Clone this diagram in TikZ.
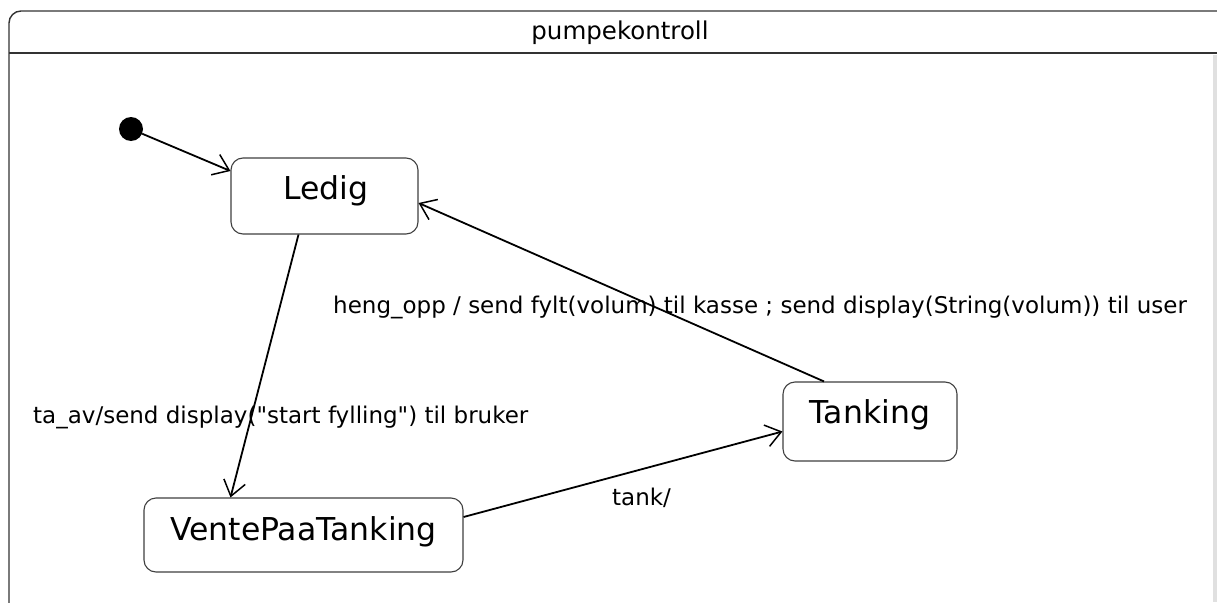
\documentclass[tikz,border=0pt]{standalone}
\usepackage{fontspec}
\setmainfont{DejaVu Sans}[Ligatures=TeXOff]
\usetikzlibrary{arrows.meta}
\begin{document}
\begin{tikzpicture}[x=1pt,y=-1pt,
  state/.style={draw=black!75, line width=1.1pt, rounded corners=12pt, fill=white, inner sep=0pt},
  statelabel/.style={font=\fontsize{31.5}{35}\selectfont, inner sep=0pt, anchor=base},
  trans/.style={line width=1.8pt, -{Straight Barb[length=15pt,width=22pt,line width=1.5pt]}},
  lbl/.style={font=\fontsize{23}{27}\selectfont, inner sep=0pt, anchor=base west},
  frame/.style={line width=1.4pt, draw=black!80}
]
\useasboundingbox (0,0) rectangle (1217,602);
\fill[white] (0,0) rectangle (1217,602);
% frame
\draw[frame, rounded corners=12pt] (9,606) -- (9,11) -- (1220,11);
\draw[frame] (9,53) -- (1220,53);
\fill[black!12] (1213,55) rectangle (1217,602);
\node[inner sep=0pt, anchor=base, font=\fontsize{24.5}{28}\selectfont] (title) at (620,40) {pumpekontroll};
% states
\node[circle, fill=black, minimum size=24pt, inner sep=0pt] (init) at (131,129) {};
\node[state, minimum width=187pt, minimum height=76pt] (ledig) at (324.5,196) {};
\node[statelabel] (ledigT) at (326,199) {Ledig};
\node[state, minimum width=319pt, minimum height=74pt] (vente) at (303.5,535) {};
\node[statelabel] (venteT) at (303.5,540) {VentePaaTanking};
\node[state, minimum width=174pt, minimum height=79pt] (tanking) at (870,421.5) {};
\node[statelabel] (tankingT) at (870,423) {Tanking};
% transitions
\draw[trans] (init) -- ([yshift=25pt]ledig.west);
\draw[trans] ([xshift=-26pt]ledig.south) -- ([xshift=-73pt]vente.north);
\draw[trans] ([yshift=18pt]vente.east) -- ([yshift=-10pt]tanking.west);
\draw[trans] ([xshift=-46pt]tanking.north) -- ([yshift=-7pt]ledig.east);
% labels
\node[lbl] (l1) at (333,313) {heng\_opp / send fylt(volum) til kasse ; send display(String(volum)) til user};
\node[lbl] (l2) at (33,423) {ta\_av/send display("start fylling") til bruker};
\node[lbl] (l3) at (612,505) {tank/};
\end{tikzpicture}
\end{document}
